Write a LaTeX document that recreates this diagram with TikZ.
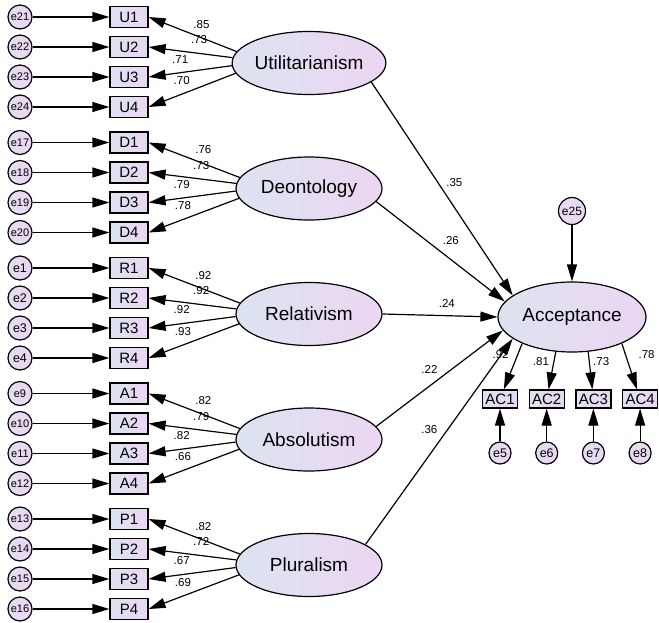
\documentclass[tikz,border=0pt]{standalone}
\usepackage{fontspec}
\setmainfont{Liberation Sans}
\usepackage{tikz}
\usetikzlibrary{arrows.meta,shapes.geometric,positioning}

\definecolor{amosblue}{RGB}{220,227,240}
\definecolor{amospink}{RGB}{236,214,243}

\begin{document}
\begin{tikzpicture}[x=1pt, y=-1pt, >={Triangle[length=17pt,width=10pt]}, line width=1.2pt,
    latent/.style={ellipse, draw, left color=amosblue, right color=amospink, minimum width=146pt, minimum height=63pt, inner sep=0pt, font=\fontsize{19}{19}\selectfont},
    obs/.style={draw, left color=amosblue, right color=amospink, minimum width=38pt, minimum height=21pt, inner sep=0pt, font=\fontsize{15}{15}\selectfont},
    err/.style={circle, draw, left color=amosblue!50!amospink, right color=amospink, minimum size=24pt, inner sep=0pt},
    coef/.style={inner sep=1pt, font=\fontsize{11.5}{11.5}\selectfont}]
    \useasboundingbox (0,0) rectangle (659,622);

    %% Exogenous factors with their items
    \foreach \lat/\name/\ltr/\first/\row/\ef/\lds in {
        ut/Utilitarianism/U/21/17/11/{.85,.73,.71,.70},
        de/Deontology/D/17/142.5/11/{.76,.73,.79,.78},
        re/Relativism/R/1/268/12.5/{.92,.92,.92,.93},
        ab/Absolutism/A/9/393.5/11/{.82,.79,.82,.66},
        pl/Pluralism/P/13/519/11/{.82,.72,.67,.69}}{
      \node at (309,\row+46) [latent] (\lat) {\name};
      \foreach \l [count=\i] in \lds {
        \pgfmathtruncatemacro\en{\first+\i-1}
        \pgfmathtruncatemacro\ang{165.3+5.7*\i}
        \pgfmathsetmacro\lpos{\i<3 ? 0.4 : 0.62}
        \node at (129,\row+30*\i-30) [obs] (\ltr\i) {\ltr\i};
        \node at (20,\row+30*\i-30) [err, font=\fontsize{\ef}{\ef}\selectfont] (e\en) {e\en};
        \draw [->] (e\en) -- (\ltr\i);
        \draw [->] (\lat.\ang) -- (\ltr\i.east) node [coef, pos=\lpos, above=8pt] {\l};
      }
    }

    %% Outcome
    \node at (572,317) [latent, minimum width=148pt, minimum height=70pt] (acc) {Acceptance};
    \node at (572,211) [err, minimum size=27pt, font=\fontsize{12}{12}\selectfont] (e25) {e25};
    \draw [->] (e25) -- (acc);

    \foreach \i/\ang/\l/\dx in {1/208/.92/-17, 2/245/.81/-13, 3/295/.73/12, 4/332/.78/21}{
      \pgfmathtruncatemacro\en{\i+4}
      \node at (500+46.7*\i-46.7,399) [obs, minimum width=35pt, minimum height=18pt] (AC\i) {AC\i};
      \node at (500+46.7*\i-46.7,453) [err, minimum size=22pt, font=\fontsize{12.5}{12.5}\selectfont] (e\en) {e\en};
      \draw [->] (e\en) -- (AC\i);
      \draw [->] (acc.\ang) -- (AC\i) node [coef, pos=0.25, xshift=\dx pt] {\l};
    }

    %% Paths
    \draw [->] (ut.-17) -- (acc.160) node [coef, pos=0.47, right=7pt] {.35};
    \draw [->] (de.-11) -- (acc.167) node [coef, pos=0.58, above=13pt] {.26};
    \draw [->] (re.east) -- (acc.west) node [coef, pos=0.56, above=7pt] {.24};
    \draw [->] (ab.11) -- (acc.191) node [coef, pos=0.42, above=11pt] {.22};
    \draw [->] (pl.20) -- (acc.200) node [coef, pos=0.56, left=9pt] {.36};
\end{tikzpicture}
\end{document}
